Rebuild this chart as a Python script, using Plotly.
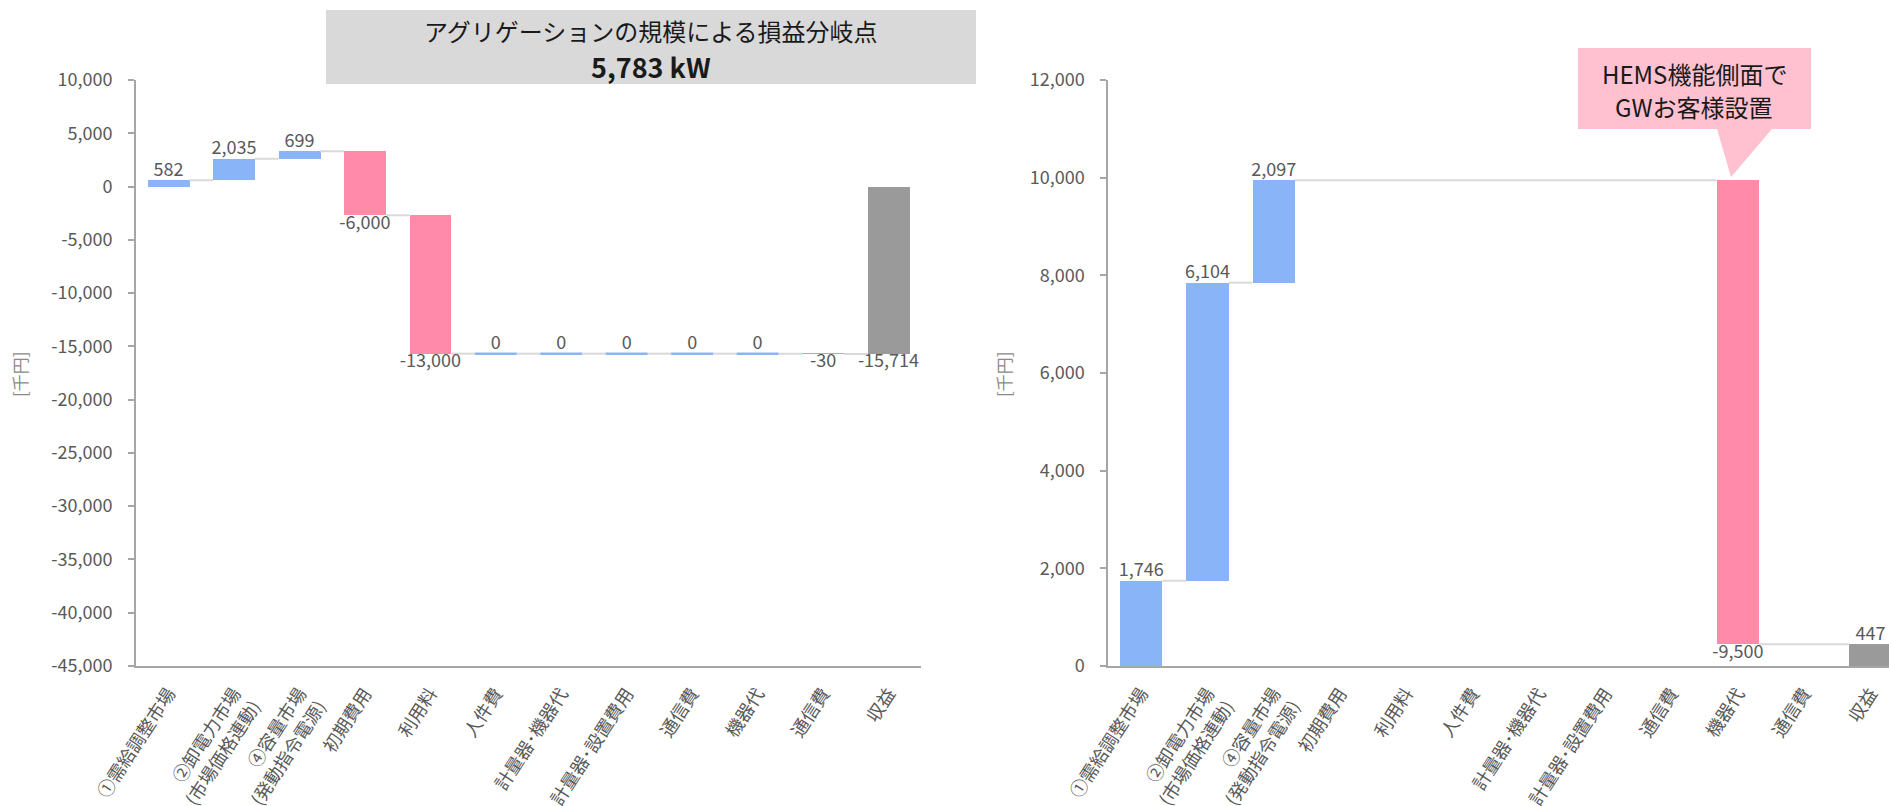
import plotly.graph_objects as go

# Categories shared by both waterfalls
categories = [
    "①需給調整市場",
    "②卸電力市場<br>(市場価格連動)",
    "④容量市場<br>(発動指令電源)",
    "初期費用",
    "利用料",
    "人件費",
    "計量器･機器代",
    "計量器･設置費用",
    "通信費",
    "機器代",
    "通信費",
    "収益",
]

# Left waterfall: step values (last category is the total)
left_deltas = [582, 2035, 699, -6000, -13000, 0, 0, 0, 0, 0, -30]
left_total = -15714

# Right waterfall: None = item not present
right_deltas = [1746, 6104, 2097, None, None, None, None, None, None, -9500, None]
right_total = 447

left_yticks = list(range(-45000, 10001, 5000))
right_yticks = list(range(0, 12001, 2000))

title_line1 = "アグリゲーションの規模による損益分岐点"
title_line2 = "5,783 kW"
callout_lines = ["HEMS機能側面で", "GWお客様設置"]
unit_label = "[千円]"

# Styling
FONT = "Noto Sans CJK JP"
TXT = "#595959"
BLUE = "#8AB4F8"
PINK = "#FF8AAA"
GRAY = "#9A9A9A"
CONN = "#D9D9D9"
AXIS = "#A6A6A6"
W, H = 1889, 806
BAR_W = 0.64
HALF = BAR_W / 2


def px(x):
    return x / W


def py(y):
    return 1 - y / H


def add_waterfall(fig, deltas, total, xa, ya):
    xs, ys, bases, cols = [], [], [], []
    zero_x, zero_y = [], []
    conn_x, conn_y = [], []
    lab_x, lab_y, lab_t, lab_p = [], [], [], []
    level = 0
    prev = None  # (index, level) of last drawn item
    for i, d in enumerate(deltas):
        if d is None:
            continue
        start, end = level, level + d
        if prev is not None:
            conn_x += [prev[0] + HALF, i - HALF, None]
            conn_y += [prev[1], prev[1], None]
        if d == 0:
            zero_x += [i - HALF, i + HALF, None]
            zero_y += [start, start, None]
        else:
            xs.append(i)
            ys.append(d)
            bases.append(start)
            cols.append(BLUE if d > 0 else PINK)
        lab_x.append(i)
        lab_y.append(end)
        lab_t.append(f"{d:,}")
        lab_p.append("top center" if d >= 0 else "bottom center")
        level = end
        prev = (i, end)
    ti = len(deltas)
    conn_x += [prev[0] + HALF, ti - HALF, None]
    conn_y += [prev[1], prev[1], None]
    xs.append(ti)
    ys.append(total)
    bases.append(0)
    cols.append(GRAY)
    lab_x.append(ti)
    lab_y.append(total)
    lab_t.append(f"{total:,}")
    lab_p.append("top center" if total >= 0 else "bottom center")

    fig.add_trace(go.Scatter(x=conn_x, y=conn_y, mode="lines",
                             line=dict(color=CONN, width=2),
                             xaxis=xa, yaxis=ya, hoverinfo="skip"))
    fig.add_trace(go.Bar(x=xs, y=ys, base=bases, width=BAR_W,
                         marker=dict(color=cols, line=dict(width=0)),
                         xaxis=xa, yaxis=ya, hoverinfo="skip"))
    if zero_x:
        fig.add_trace(go.Scatter(x=zero_x, y=zero_y, mode="lines",
                                 line=dict(color=BLUE, width=2.5),
                                 xaxis=xa, yaxis=ya, hoverinfo="skip"))
    fig.add_trace(go.Scatter(x=lab_x, y=lab_y, mode="text", text=lab_t,
                             textposition=lab_p, cliponaxis=False,
                             textfont=dict(family=FONT, size=18, color=TXT),
                             xaxis=xa, yaxis=ya, hoverinfo="skip"))


fig = go.Figure()
add_waterfall(fig, left_deltas, left_total, "x", "y")
add_waterfall(fig, right_deltas, right_total, "x2", "y2")

ydom = [py(666), py(80)]
xcommon = dict(tickvals=list(range(len(categories))), ticktext=categories,
               tickangle=-57, showline=True, linecolor=AXIS, linewidth=2,
               ticks="", showgrid=False, zeroline=False, automargin=False,
               ticklabelstandoff=8,
               tickfont=dict(family=FONT, size=18, color=TXT))
ycommon = dict(showline=True, linecolor=AXIS, linewidth=1.5, ticks="outside",
               ticklen=6, tickcolor=AXIS, tickwidth=1.5, showgrid=False,
               zeroline=False, ticklabelstandoff=12, automargin=False,
               tickfont=dict(family=FONT, size=18, color=TXT))

fig.update_layout(
    template="none",
    width=W, height=H,
    margin=dict(l=0, r=0, t=0, b=0, pad=0),
    paper_bgcolor="white", plot_bgcolor="white",
    showlegend=False, bargap=0,
    font=dict(family=FONT, color=TXT, size=18),
    xaxis=dict(domain=[px(135.8), px(921.2)], range=[-0.5, 11.5], anchor="y", **xcommon),
    yaxis=dict(domain=ydom, range=[-45000, 10000], anchor="x",
               tickvals=left_yticks, ticktext=[f"{v:,}" for v in left_yticks], **ycommon),
    xaxis2=dict(domain=[px(1108), 1.0], range=[-0.5, 11.28], anchor="y2", **xcommon),
    yaxis2=dict(domain=ydom, range=[0, 12000], anchor="x2",
                tickvals=right_yticks, ticktext=[f"{v:,}" for v in right_yticks], **ycommon),
)


def label(x, y, text, size, color, angle=0):
    fig.add_annotation(x=px(x), y=py(y), xref="paper", yref="paper", showarrow=False,
                       xanchor="center", yanchor="middle", text=text, textangle=angle,
                       borderpad=0, font=dict(family=FONT, size=size, color=color))


# Title box
fig.add_shape(type="rect", xref="paper", yref="paper",
              x0=px(326), x1=px(976), y0=py(84), y1=py(10),
              fillcolor="#D9D9D9", line=dict(width=0), layer="below")
label(651, 31, title_line1, 24, "#1A1A1A")
label(651, 66, f"<b>{title_line2}</b>", 27, "#1A1A1A")

# Callout bubble
pts = [(1578, 48), (1811, 48), (1811, 129), (1772, 129), (1731, 177), (1717, 129), (1578, 129)]
path = "M " + " L ".join(f"{px(x)},{py(y)}" for x, y in pts) + " Z"
fig.add_shape(type="path", xref="paper", yref="paper", path=path,
              fillcolor="#FFC1CF", line=dict(width=0))
label(1694, 73, callout_lines[0], 24, "#1A1A1A")
label(1694, 107, callout_lines[1], 24, "#1A1A1A")

# Unit labels
for xpos in (19, 1003):
    label(xpos, 374, unit_label, 17, "#8C8C8C", angle=-90)

fig.write_html("out.html")
